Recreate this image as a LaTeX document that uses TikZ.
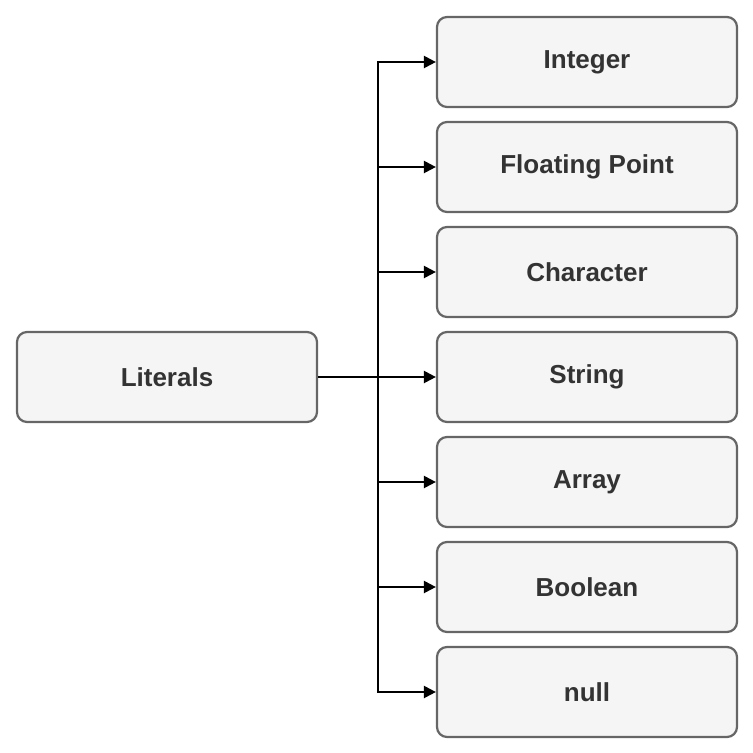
\documentclass[tikz,border=0pt]{standalone}
\usepackage{fontspec}
\setmainfont{Liberation Sans}
\usetikzlibrary{arrows.meta}
\definecolor{bd}{HTML}{666666}
\definecolor{fl}{HTML}{F5F5F5}
\definecolor{tx}{HTML}{333333}
\begin{document}
\begin{tikzpicture}[x=1pt,y=-1pt,
  box/.style={draw=bd,fill=fl,line width=2.2pt,rounded corners=10pt,minimum width=300pt,minimum height=90pt,inner sep=0pt,font=\fontsize{26}{30}\selectfont\bfseries,text=tx},
  conn/.style={draw=black,line width=2.2pt,-{Triangle[length=12pt,width=12pt]}}]
\useasboundingbox (0,0) rectangle (753,753);
\node[box] (lit) at (167,377) {Literals};
\foreach \n/\t/\y in {b1/Integer/62,b2/Floating Point/167,b3/Character/272,b4/String/377,b5/Array/482,b6/Boolean/587,b7/null/692}{
  \node[box] (\n) at (587,\y) {\t};
  \draw[conn] (lit.east) -- ++(60,0) |- (\n.west);
}
\end{tikzpicture}
\end{document}
